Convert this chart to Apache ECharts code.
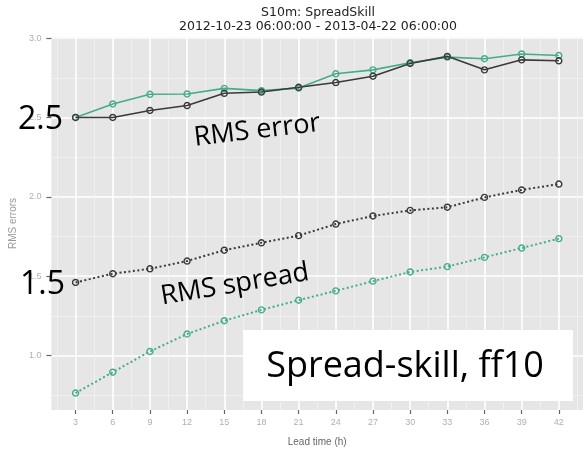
<!DOCTYPE html>
<html>
<head>
<meta charset="utf-8">
<script src="https://cdn.jsdelivr.net/npm/echarts@6/dist/echarts.min.js"></script>
<style>
  html, body { margin: 0; padding: 0; background: #ffffff; }
  #chart { width: 583px; height: 452px; }
</style>
</head>
<body>
<div id="chart"></div>
<script>
// ---- data ----
const leadTimes = [3, 6, 9, 12, 15, 18, 21, 24, 27, 30, 33, 36, 39, 42];
const rmsErrorDark  = [2.50, 2.50, 2.544, 2.575, 2.652, 2.66, 2.69, 2.72, 2.76, 2.84, 2.885, 2.80, 2.863, 2.857];
const rmsErrorGreen = [2.50, 2.585, 2.646, 2.648, 2.683, 2.669, 2.685, 2.775, 2.80, 2.845, 2.88, 2.87, 2.90, 2.89];
const rmsSpreadDark  = [1.46, 1.515, 1.546, 1.595, 1.663, 1.71, 1.755, 1.828, 1.879, 1.914, 1.934, 1.996, 2.043, 2.08];
const rmsSpreadGreen = [0.763, 0.894, 1.025, 1.135, 1.219, 1.287, 1.348, 1.407, 1.468, 1.526, 1.56, 1.618, 1.677, 1.736];
const yTicks = [1.0, 1.5, 2.0, 2.5, 3.0];
const yMinorTicks = [0.75, 1.25, 1.75, 2.25, 2.75];
const xMinorTicks = [1.5, 4.5, 7.5, 10.5, 13.5, 16.5, 19.5, 22.5, 25.5, 28.5, 31.5, 34.5, 37.5, 40.5, 43.5];
const titleLines = ['S10m: SpreadSkill', '2012-10-23 06:00:00 - 2013-04-22 06:00:00'];

const DARK = '#3a3a3a';
const GREEN = '#44ad88';
const BG = '#e6e6e6';

function pairs(vals) { return leadTimes.map((t, i) => [t, vals[i]]); }

function lineSeries(name, vals, color, dotted) {
  return {
    name: name,
    type: 'line',
    data: pairs(vals),
    xAxisIndex: 0,
    yAxisIndex: 0,
    symbol: 'circle',
    symbolSize: 6,
    showSymbol: true,
    lineStyle: dotted
      ? { color: color, width: 2, type: [2, 2.5] }
      : { color: color, width: 1.6 },
    itemStyle: { color: 'rgba(0,0,0,0)', borderColor: color, borderWidth: 1.4 },
    emphasis: { disabled: true },
    z: 3
  };
}

const chart = echarts.init(document.getElementById('chart'), null, { renderer: 'canvas' });

const axisLabelFont = '"Liberation Sans", Arial, sans-serif';

chart.setOption({
  animation: false,
  backgroundColor: '#ffffff',
  grid: {
    left: 49, top: 37, width: 540, height: 383,
    show: true, backgroundColor: BG, borderWidth: 0
  },
  xAxis: [
    {
      type: 'value', min: 1.05, max: 43.95,
      name: 'Lead time (h)', nameLocation: 'middle', nameGap: 27,
      nameTextStyle: { color: '#666', fontSize: 10, fontFamily: axisLabelFont },
      axisLine: { show: false },
      axisTick: { show: true, length: 4, lineStyle: { color: '#666', width: 1.2 }, customValues: leadTimes },
      axisLabel: { color: '#b0b0b0', fontSize: 9, margin: 8, fontFamily: axisLabelFont, customValues: leadTimes },
      splitLine: { show: true, lineStyle: { color: '#ffffff', width: 1.6 } }
    },
    {
      type: 'value', min: 1.05, max: 43.95, position: 'bottom',
      axisLine: { show: false },
      axisTick: { show: false, customValues: xMinorTicks },
      axisLabel: { show: false },
      splitLine: { show: true, lineStyle: { color: '#f3f3f3', width: 0.8 } }
    }
  ],
  yAxis: [
    {
      type: 'value', min: 0.656, max: 3.007,
      name: 'RMS errors', nameLocation: 'middle', nameGap: 30, nameRotate: 90,
      nameTextStyle: { color: '#999', fontSize: 10, fontFamily: axisLabelFont },
      axisLine: { show: false },
      axisTick: { show: true, length: 5, lineStyle: { color: '#666', width: 1.2 }, customValues: yTicks },
      axisLabel: {
        color: '#b0b0b0', fontSize: 9, margin: 10, fontFamily: axisLabelFont,
        customValues: yTicks, formatter: v => Number(v).toFixed(1)
      },
      splitLine: { show: true, lineStyle: { color: '#ffffff', width: 1.6 } }
    },
    {
      type: 'value', min: 0.656, max: 3.007, position: 'left',
      axisLine: { show: false },
      axisTick: { show: false, customValues: yMinorTicks },
      axisLabel: { show: false },
      splitLine: { show: true, lineStyle: { color: '#f3f3f3', width: 0.8 } }
    }
  ],
  series: [
    lineSeries('RMS spread (green)', rmsSpreadGreen, GREEN, true),
    lineSeries('RMS spread (dark)', rmsSpreadDark, DARK, true),
    lineSeries('RMS error (green)', rmsErrorGreen, GREEN, false),
    lineSeries('RMS error (dark)', rmsErrorDark, DARK, false)
  ],
  graphic: [
    {
      type: 'text', x: 318, y: 6, z: 100,
      style: {
        text: titleLines.join('\n'),
        font: '12.5px "DejaVu Sans", sans-serif',
        fill: '#222', align: 'center', verticalAlign: 'top', lineHeight: 14
      }
    },
    {
      type: 'text', x: 18, y: 120, z: 100,
      style: { text: '2.5', font: '32px "Open Sans", sans-serif', fill: '#000', align: 'left', verticalAlign: 'middle' }
    },
    {
      type: 'text', x: 20, y: 285, z: 100,
      style: { text: '1.5', font: '32px "Open Sans", sans-serif', fill: '#000', align: 'left', verticalAlign: 'middle' }
    },
    {
      type: 'text', x: 194, y: 138, rotation: 0.117, z: 100,
      style: { text: 'RMS error', font: '27px "Open Sans", sans-serif', fill: '#000', align: 'left', verticalAlign: 'middle' }
    },
    {
      type: 'text', x: 161, y: 297, rotation: 0.166, z: 100,
      style: { text: 'RMS spread', font: '27px "Open Sans", sans-serif', fill: '#000', align: 'left', verticalAlign: 'middle' }
    },
    {
      type: 'rect', z: 99,
      shape: { x: 243, y: 330, width: 330, height: 71 },
      style: { fill: '#ffffff' }
    },
    {
      type: 'text', x: 405, y: 367, z: 100,
      style: { text: 'Spread-skill, ff10', font: '36px "Open Sans", sans-serif', fill: '#000', align: 'center', verticalAlign: 'middle' }
    }
  ]
});
</script>
</body>
</html>
